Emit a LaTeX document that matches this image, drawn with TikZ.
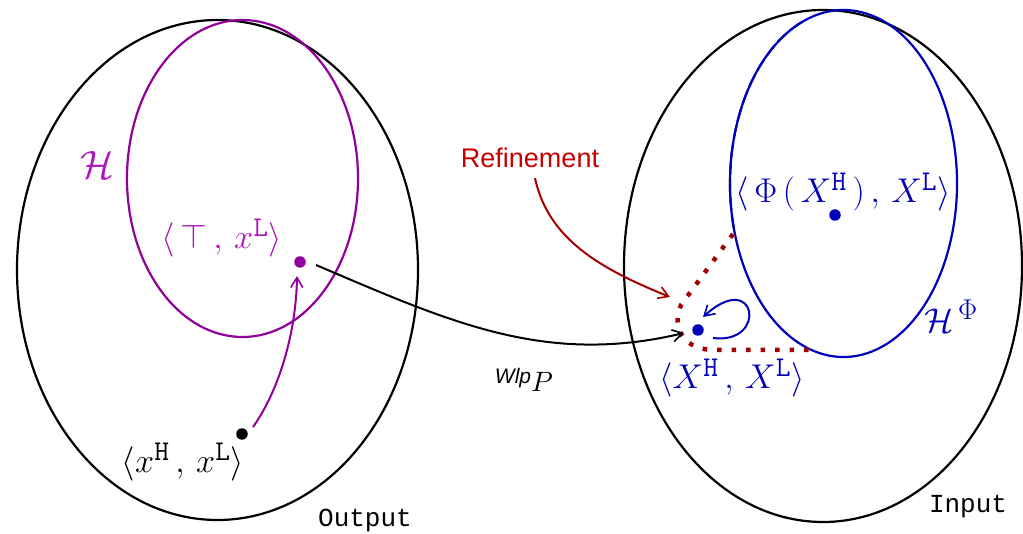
\documentclass[tikz,border=0pt]{standalone}
\usepackage[no-math]{fontspec}
\setsansfont{Liberation Sans}
\setmonofont{Liberation Mono}
\usetikzlibrary{arrows.meta}
\definecolor{hpurple}{RGB}{145,0,155}
\definecolor{hpurpletext}{RGB}{175,20,190}
\definecolor{hblue}{RGB}{0,0,185}
\definecolor{hred}{RGB}{200,0,0}
\definecolor{hdarkred}{RGB}{165,0,0}
\tikzset{
  setline/.style={line width=2.2pt},
  dotnode/.style={circle,fill,inner sep=0pt,minimum size=11.5pt},
  lbl/.style={inner sep=0pt,font=\fontsize{28}{32}\selectfont,scale=1.38,transform shape},
  arr/.style={line width=2pt,-{Straight Barb[length=10pt,width=12pt,line width=1.6pt]}},
  refdots/.style={line width=4.5pt,dash pattern=on 4.5pt off 10pt,hdarkred},
}
\begin{document}
\begin{tikzpicture}[x=1pt,y=-1pt]
\useasboundingbox (0,0) rectangle (1023,534);
% big sets
\draw[setline] (217.5,270) ellipse [x radius=200.5,y radius=250];
\draw[setline] (823,266) ellipse [x radius=199,y radius=256];
% H
\draw[setline,hpurple] (242.5,178.5) ellipse [x radius=115.5,y radius=158.5];
% H^Phi : solid part and dashed part
\draw[setline,hblue] (843.5,183.5) ++(251:113.5 and -173.5) arc [start angle=-251,end angle=165,x radius=113.5,y radius=173.5];
\draw[setline,hblue,dash pattern=on 14pt off 4pt] (843.5,183.5) ++(195:113.5 and -173.5) arc [start angle=-195,end angle=-109,x radius=113.5,y radius=173.5];
% refinement region
\draw[refdots] (733,234) -- (681,305) .. controls (672,325) and (680,348) .. (712,350) -- (810,350);
% dots
\node[dotnode,black] (xs) at (242,434) {};
\node[dotnode,hpurple] (top) at (300,262) {};
\node[dotnode,hblue] (phi) at (835,215) {};
\node[dotnode,hblue] (big) at (698,330) {};
% labels
\node[lbl,hpurpletext,scale=1.15] (hlab) at (97,165) {$\mathcal{H}$};
\node[lbl,hpurpletext] (toplab) at (222,238) {$\langle\,\top\,,\,x^{\mathtt{L}}\rangle$};
\node[lbl] (xslab) at (183,462) {$\langle x^{\mathtt{H}}\,,\,x^{\mathtt{L}}\rangle$};
\node[lbl,hblue] (biglab) at (732,378) {$\langle X^{\mathtt{H}}\,,\,X^{\mathtt{L}}\rangle$};
\node[lbl,hblue] (philab) at (843,192) {$\langle\,\Phi\,(\,X^{\mathtt{H}}\,)\,,\,X^{\mathtt{L}}\rangle$};
\node[lbl,hblue] (hphilab) at (951,316) {$\mathcal{H}^{\,\Phi}$};
\node[inner sep=0pt,hred,font=\fontsize{27}{32}\sffamily] (reflab) at (530,158) {Refinement};
\node[inner sep=0pt,font=\fontsize{26}{30}\ttfamily] (outlab) at (365,521) {Output};
\node[inner sep=0pt,font=\fontsize{26}{30}\ttfamily] (inlab) at (968,507) {Input};
\node[inner sep=0pt] (wlplab) at (524,380) {{\fontsize{21}{24}\sffamily\itshape Wlp}\raisebox{-8pt}{\scalebox{2.8}{$P$}}};
% connectors
\draw[arr,hpurple] ([shift={(11,-7)}]xs.center) .. controls (278,392) and (296,335) .. ([shift={(-3,14)}]top.center);
\draw[arr] ([shift={(16,3)}]top.center) .. controls (450,322) and (545,366) .. ([shift={(-14,3)}]big.center);
\draw[arr,hdarkred] (reflab.south) ++(5,10) .. controls (548,238) and (598,268) .. (670,297);
\draw[arr,hblue] ([shift={(15,8)}]big.center) .. controls (768,345) and (757,268) .. ([shift={(5,-13)}]big.center);
\end{tikzpicture}
\end{document}
